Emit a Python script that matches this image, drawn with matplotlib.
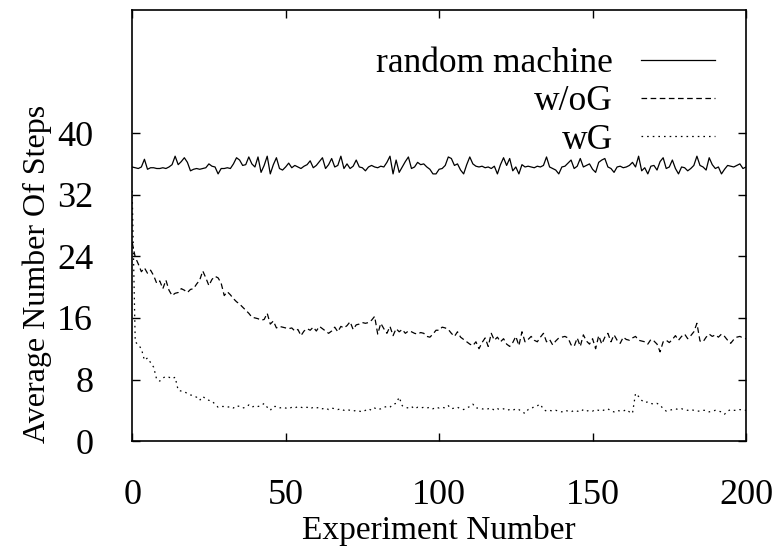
import matplotlib
matplotlib.use("Agg")
import matplotlib.pyplot as plt
import numpy as np

# experiment index 0..200
experiments = np.arange(201)

random_machine = [
    35.6, 35.5, 35.4, 35.6, 36.6, 35.3, 35.5, 35.5, 35.4, 35.4,
    35.5, 35.4, 35.6, 35.9, 37.0, 35.9, 36.3, 36.8, 36.2, 35.1,
    35.3, 35.4, 35.3, 35.4, 35.5, 36.0, 35.7, 35.6, 34.7, 35.4,
    35.4, 35.5, 35.4, 36.0, 36.8, 36.5, 35.8, 35.9, 36.9, 36.0,
    35.6, 36.9, 34.9, 35.8, 37.0, 34.7, 35.9, 36.8, 35.4, 35.2,
    35.6, 36.1, 35.5, 35.8, 35.6, 35.4, 35.7, 35.9, 36.4, 35.5,
    35.8, 36.3, 36.8, 35.4, 35.9, 36.7, 35.6, 35.8, 37.0, 35.4,
    36.0, 35.4, 35.7, 36.5, 35.6, 35.5, 35.1, 35.6, 35.8, 35.6,
    35.5, 35.7, 35.6, 36.2, 37.0, 34.7, 36.5, 34.9, 35.6, 36.3,
    36.9, 35.4, 35.6, 36.2, 35.9, 36.0, 35.6, 35.3, 34.7, 34.7,
    35.3, 35.4, 35.8, 36.9, 36.7, 35.8, 36.0, 35.2, 34.7, 35.9,
    36.9, 36.0, 35.7, 35.6, 35.7, 35.5, 35.6, 35.4, 35.7, 34.7,
    35.9, 36.8, 35.8, 36.7, 35.1, 35.6, 34.7, 35.9, 35.6, 35.7,
    35.6, 35.5, 35.7, 35.6, 35.8, 36.9, 35.6, 35.4, 35.2, 34.7,
    35.6, 35.7, 36.1, 36.5, 35.4, 35.7, 36.7, 35.6, 35.8, 36.0,
    35.3, 34.9, 36.2, 36.5, 36.7, 35.6, 35.4, 34.9, 35.6, 35.7,
    35.5, 35.6, 35.8, 36.2, 35.6, 37.0, 35.1, 35.5, 34.7, 35.7,
    35.8, 35.2, 36.3, 36.8, 35.4, 35.6, 36.5, 35.4, 34.7, 35.6,
    35.5, 35.1, 35.4, 35.8, 37.0, 35.8, 35.6, 35.2, 36.8, 35.9,
    35.4, 35.6, 34.7, 35.3, 35.8, 35.7, 35.6, 35.8, 36.0, 35.4,
    35.6,
]

without_g = [
    25.8, 23.9, 23.0, 22.0, 22.5, 21.8, 22.2, 21.5, 20.5, 20.8,
    19.8, 20.9, 19.6, 18.9, 19.2, 19.3, 19.8, 19.6, 19.3, 19.7,
    19.8, 20.4, 20.9, 22.1, 21.2, 20.2, 21.0, 21.4, 21.2, 20.5,
    18.9, 19.4, 19.0, 18.5, 18.1, 17.8, 17.4, 17.0, 16.6, 16.1,
    16.0, 15.9, 15.7, 15.8, 16.6, 15.2, 15.6, 14.7, 14.9, 14.8,
    14.7, 14.6, 14.7, 14.3, 14.5, 13.7, 14.3, 14.6, 14.4, 14.8,
    14.3, 14.9, 14.6, 14.3, 14.0, 14.3, 14.8, 14.2, 14.9, 14.7,
    15.0, 15.5, 14.5, 15.1, 15.2, 15.4, 15.3, 15.4, 15.7, 16.2,
    13.9, 15.3, 14.6, 14.0, 14.9, 13.7, 14.6, 14.2, 14.5, 14.0,
    14.3, 14.2, 14.0, 13.9, 14.1, 14.0, 13.6, 13.5, 13.9, 14.4,
    14.4, 14.8, 14.7, 14.5, 14.0, 13.6, 14.2, 13.5, 13.2, 12.9,
    12.6, 12.4, 12.9, 12.0, 12.8, 13.4, 12.3, 14.0, 13.1, 13.5,
    12.9, 13.3, 12.6, 12.3, 12.8, 13.6, 12.4, 14.2, 12.9, 13.2,
    13.6, 13.1, 12.9, 13.5, 14.0, 12.9, 13.2, 12.5, 13.0, 13.4,
    13.5, 13.6, 13.4, 12.5, 12.3, 13.4, 12.3, 13.8, 13.0, 12.6,
    13.3, 12.0, 13.7, 12.6, 13.5, 14.0, 12.9, 13.8, 13.1, 12.7,
    13.5, 13.2, 13.1, 13.4, 13.6, 13.1, 13.0, 12.9, 12.6, 13.2,
    13.0, 12.6, 11.6, 12.9, 13.1, 12.8, 13.2, 13.7, 13.1, 13.6,
    13.9, 13.3, 13.7, 14.2, 15.3, 13.0, 12.9, 13.5, 13.9, 13.6,
    13.8, 13.5, 13.9, 13.6, 13.1, 12.7, 13.2, 13.5, 13.6, 13.4,
    13.3,
]

with_g = [
    32.5, 12.9, 12.5, 12.0, 10.5, 10.8, 10.2, 9.6, 8.0, 7.8,
    8.2, 8.4, 8.3, 8.1, 8.3, 6.6, 6.5, 6.4, 6.2, 6.0,
    5.9, 5.7, 5.3, 5.8, 5.5, 5.3, 5.2, 4.8, 4.4, 4.5,
    4.5, 4.4, 4.5, 4.3, 4.6, 4.5, 4.3, 4.4, 4.7, 4.4,
    4.6, 4.5, 4.6, 4.9, 4.4, 4.0, 4.5, 4.5, 4.3, 4.4,
    4.3, 4.2, 4.4, 4.3, 4.5, 4.4, 4.3, 4.4, 4.2, 4.4,
    4.3, 4.4, 4.2, 4.3, 4.1, 4.3, 4.2, 4.1, 4.2, 4.0,
    4.1, 4.0, 3.9, 4.0, 3.9, 3.8, 4.0, 4.2, 4.0, 4.3,
    4.1, 4.2, 4.4, 4.5, 4.4, 4.8, 4.9, 5.7, 4.6, 4.4,
    4.3, 4.5, 4.2, 4.4, 4.3, 4.4, 4.3, 4.4, 4.2, 4.4,
    4.3, 4.4, 4.3, 4.6, 4.2, 4.3, 4.4, 4.2, 4.1, 4.3,
    4.5, 4.8, 4.3, 4.3, 4.2, 4.1, 4.2, 4.3, 4.0, 4.2,
    4.1, 4.2, 4.0, 4.1, 4.0, 4.2, 4.1, 3.8, 3.6, 4.1,
    4.2, 4.5, 4.6, 4.8, 4.1, 3.9, 4.0, 3.9, 4.0, 3.9,
    3.8, 4.0, 3.9, 3.8, 4.0, 3.9, 3.8, 4.1, 3.9, 4.0,
    3.9, 4.1, 4.0, 3.9, 4.1, 4.2, 3.9, 3.8, 4.0, 3.9,
    3.9, 4.1, 3.8, 3.6, 6.2, 5.8, 5.3, 5.0, 5.1, 4.9,
    4.8, 4.9, 4.7, 4.2, 3.9, 4.0, 4.1, 4.2, 4.1, 4.2,
    4.1, 4.0, 4.1, 4.0, 3.9, 3.9, 4.0, 4.0, 3.8, 3.9,
    4.0, 3.9, 3.8, 3.5, 3.9, 4.1, 4.0, 4.0, 4.1, 4.0,
    4.0,
]

x_ticks = [0, 50, 100, 150, 200]
y_ticks = [0, 8, 16, 24, 32, 40]

plt.rcParams["font.family"] = ["Liberation Serif", "DejaVu Serif"]
plt.rcParams["font.size"] = 26

fig = plt.figure(figsize=(7.82, 5.48), dpi=100)
ax = fig.add_axes([0.169, 0.195, 0.785, 0.787])

lw = 0.9
ax.plot(experiments, random_machine, color="black", lw=lw, label="random machine")
ax.plot(experiments, without_g, color="black", lw=lw, dashes=(4.5, 2.8), label="w/oG")
ax.plot(experiments, with_g, color="black", lw=lw, dashes=(1.3, 3.2), label="wG")

ax.set_xlim(0, 200)
ax.set_ylim(0, 56)
ax.set_xticks(x_ticks)
ax.set_yticks(y_ticks)
ax.tick_params(direction="in", length=6, width=1, top=True, right=True,
               labelsize=26)
ax.tick_params(axis="y", pad=28)
ax.tick_params(axis="x", pad=27)
for sp in ax.spines.values():
    sp.set_linewidth(1.2)

ax.set_xlabel("Experiment Number", fontsize=24)
ax.set_ylabel("Average Number Of Steps", fontsize=23)
ax.xaxis.set_label_coords(0.5, -0.172)
ax.yaxis.set_label_coords(-0.13, 0.387)

ax.legend(loc="upper right", bbox_to_anchor=(0.95, 0.914), frameon=False,
          markerfirst=False, handlelength=2.1, handletextpad=0.8,
          labelspacing=0.15, borderpad=0, borderaxespad=0, fontsize=25.5)

fig.savefig("out.png", dpi=100)
